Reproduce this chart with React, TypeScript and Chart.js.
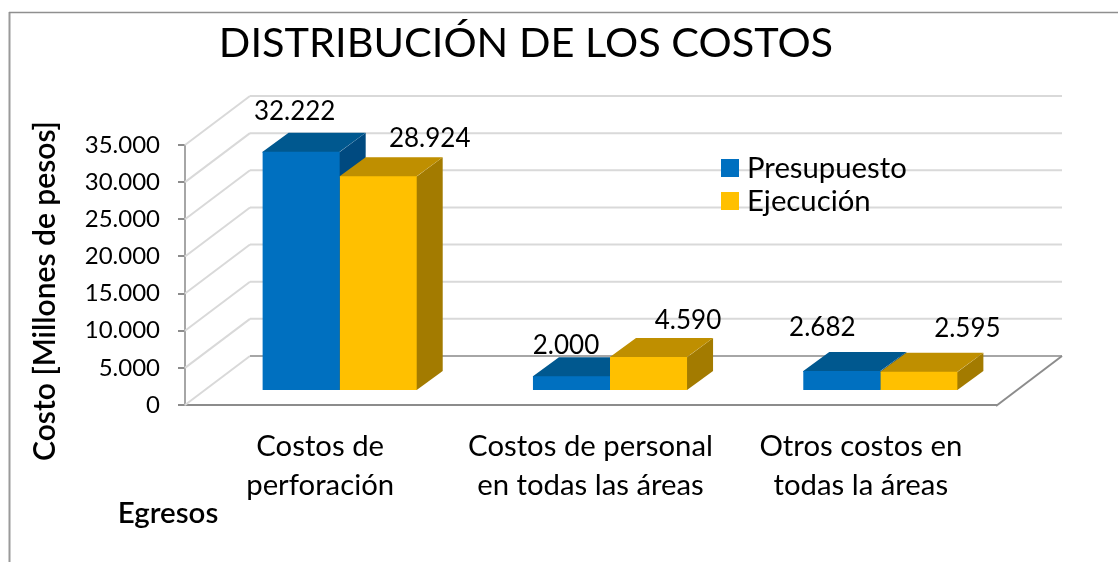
import React, { useEffect, useRef } from "react";
import { Chart, registerables } from "chart.js";

Chart.register(...registerables);

const categories = [["Costos de", "perforación"], ["Costos de personal", "en todas las áreas"], ["Otros costos en", "todas la áreas"]];
const presupuesto = [32222, 2000, 2682];
const ejecucion = [28924, 4590, 2595];
const seriesNames = ["Presupuesto", "Ejecución"];
const chartTitle = "DISTRIBUCIÓN DE LOS COSTOS";
const yTitle = "Costo [Millones de pesos]";
const xTitle = "Egresos";

const FONT = "Lato, 'Noto Sans', sans-serif";
const front = ["#0070C0", "#FFC000"];
const topFace = ["#00588F", "#BF8F00"];
const sideFace = ["#004A80", "#A37B00"];
const wall = { dx: 65, dy: 49 };
const bar3d = { dx: 26, dy: 19, shiftX: 19.5, shiftY: 14 };
const labelOffsets = [
  [[-7, -40], [51, -38]],
  [[-6, -31], [39, -36]],
  [[-20, -43], [48, -43]],
];
const fmt = (v: number) => String(v).replace(/\B(?=(\d{3})+(?!\d))/g, ".");

const poly = (ctx: CanvasRenderingContext2D, pts: number[][], fill: string) => {
  ctx.beginPath();
  pts.forEach((p, i) => (i ? ctx.lineTo(p[0], p[1]) : ctx.moveTo(p[0], p[1])));
  ctx.closePath();
  ctx.fillStyle = fill;
  ctx.fill();
};

const line = (ctx: CanvasRenderingContext2D, a: number[], b: number[], color: string, w: number) => {
  ctx.beginPath();
  ctx.moveTo(a[0], a[1]);
  ctx.lineTo(b[0], b[1]);
  ctx.strokeStyle = color;
  ctx.lineWidth = w;
  ctx.stroke();
};

const text = (ctx: CanvasRenderingContext2D, s: string, x: number, y: number, font: string, align: CanvasTextAlign = "center", rot = 0) => {
  ctx.save();
  ctx.translate(x, y);
  ctx.rotate(rot);
  ctx.font = font;
  ctx.fillStyle = "#000";
  ctx.textAlign = align;
  ctx.textBaseline = "middle";
  ctx.fillText(s, 0, 0);
  ctx.restore();
};

const plot3d = {
  id: "plot3d",
  afterLayout(chart: any) {
    chart.titleBlock.left = 0;
    chart.titleBlock.right = 1052;
  },
  beforeDraw(chart: any) {
    const ctx = chart.ctx;
    line(ctx, [9.5, 12], [9.5, 562], "#9A9A9A", 2);
    line(ctx, [9, 12.5], [1118, 12.5], "#8F8F8F", 1.5);
  },
  beforeDatasetsDraw(chart: any) {
    const { ctx, chartArea: a, scales } = chart;
    const y = scales.y;
    const backL = a.left + wall.dx;
    const backR = a.right + wall.dx + 1;
    ctx.save();
    y.ticks.forEach((t: any) => {
      const py = y.getPixelForValue(t.value);
      line(ctx, [a.left, py], [backL, py - wall.dy], "#D9D9D9", 2);
      line(ctx, [backL, py - wall.dy], [backR, py - wall.dy], t.value === 0 ? "#A6A6A6" : "#D9D9D9", 2);
    });
    const by = y.getPixelForValue(0);
    line(ctx, [a.right, by + 1], [backR, by - wall.dy], "#8C8C8C", 2);
    ctx.restore();
    ctx.save();
    ctx.translate(bar3d.shiftX, -bar3d.shiftY);
    chart.data.datasets.forEach((_: any, i: number) => {
      chart.getDatasetMeta(i).data.forEach((el: any) => {
        const l = el.x - el.width / 2;
        const r = el.x + el.width / 2;
        const { dx, dy } = bar3d;
        // faces overlap the front by a pixel so no seam shows once the bar is drawn over them
        poly(ctx, [[r - 1, el.y + 1], [r + dx, el.y - dy], [r + dx, el.base - dy], [r, el.base], [r - 1, el.base]], sideFace[i]);
        poly(ctx, [[l, el.y + 1], [l, el.y], [l + dx, el.y - dy], [r + dx, el.y - dy], [r, el.y], [r, el.y + 1]], topFace[i]);
      });
    });
  },
  afterDatasetsDraw(chart: any) {
    const ctx = chart.ctx;
    ctx.restore();
    chart.data.datasets.forEach((ds: any, i: number) => {
      chart.getDatasetMeta(i).data.forEach((el: any, j: number) => {
        const o = labelOffsets[j][i];
        text(ctx, fmt(ds.data[j]), el.x + 20 + o[0], el.y - bar3d.shiftY + o[1], `26px ${FONT}`);
      });
    });
    const swY = [159, 192];
    chart.data.datasets.forEach((ds: any, i: number) => {
      ctx.fillStyle = front[i];
      ctx.fillRect(721, swY[i], 18, 18);
      text(ctx, ds.label, 747, swY[i] + 10, `29.3px ${FONT}`, "left");
    });
    text(ctx, yTitle, 45, 291, `600 30px ${FONT}`, "center", -Math.PI / 2);
    text(ctx, xTitle, 168, 513, `600 29.5px ${FONT}`);
  },
};

export default function App() {
  const ref = useRef<HTMLCanvasElement>(null);
  useEffect(() => {
    const chart = new Chart(ref.current as HTMLCanvasElement, {
      type: "bar",
      data: {
        labels: categories,
        datasets: [
          { label: seriesNames[0], data: presupuesto, backgroundColor: front[0], clip: false },
          { label: seriesNames[1], data: ejecucion, backgroundColor: front[1], clip: false },
        ],
      } as any,
      options: {
        animation: false,
        responsive: false,
        layout: { padding: { left: 0, right: 122, top: 0, bottom: 0 } },
        datasets: { bar: { categoryPercentage: 0.57, barPercentage: 1 } },
        plugins: {
          legend: { display: false },
          tooltip: { enabled: false },
          title: {
            display: true,
            text: chartTitle,
            color: "#000",
            font: { family: FONT, size: 41.5, weight: "normal", lineHeight: 1.2 },
            padding: { top: 19, bottom: 76.2 },
          },
        },
        scales: {
          x: {
            grid: { display: false },
            border: { color: "#8C8C8C", width: 2 },
            ticks: { color: "#000", font: { family: FONT, size: 29.3, lineHeight: 1.3 }, padding: 15, maxRotation: 0, autoSkip: false },
            afterFit: (s: any) => { s.height = 157; },
          },
          y: {
            min: 0,
            max: 35000,
            grid: { drawOnChartArea: false, drawTicks: true, tickLength: 7, color: "#8C8C8C", lineWidth: 2 },
            border: { color: "#A6A6A6", width: 2 },
            ticks: { stepSize: 5000, color: "#000", font: { family: FONT, size: 24 }, padding: 18, callback: (v: any) => fmt(v) },
            afterFit: (s: any) => { s.width = 185; },
          },
        },
      } as any,
      plugins: [plot3d],
    });
    return () => chart.destroy();
  }, []);
  return (
    <div style={{ position: "fixed", left: 0, top: 0, width: 1118, height: 562, background: "#fff" }}>
      <canvas ref={ref} width={1118} height={562} style={{ display: "block" }} />
    </div>
  );
}
